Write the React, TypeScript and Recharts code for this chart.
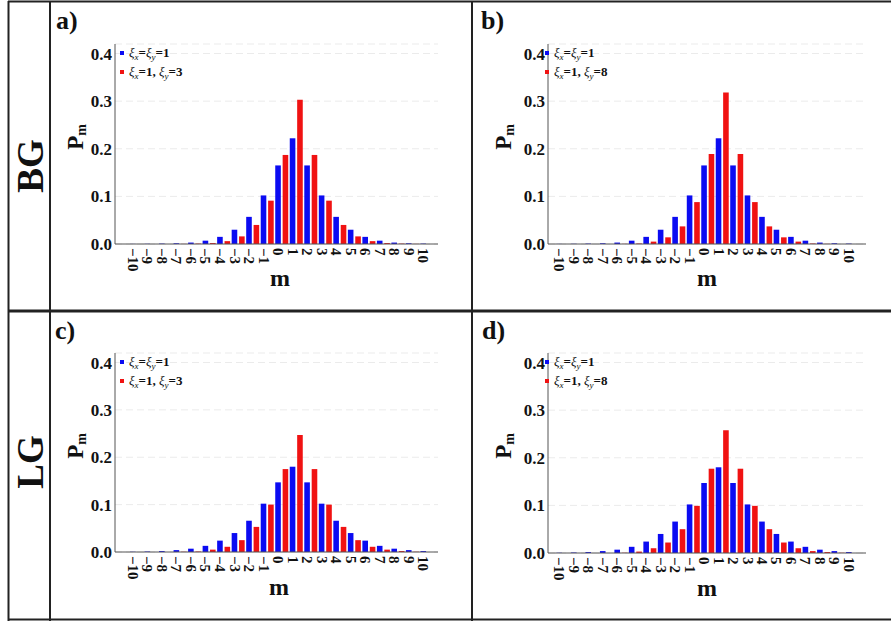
import React from 'react';
import { BarChart, Bar, XAxis, YAxis, CartesianGrid, Legend } from 'recharts';

// m values on the x axis
const M = [-10, -9, -8, -7, -6, -5, -4, -3, -2, -1, 0, 1, 2, 3, 4, 5, 6, 7, 8, 9, 10];

// BG beams
const bgUniform = [0.0002, 0.0004, 0.0008, 0.0015, 0.003, 0.007, 0.015, 0.03, 0.057, 0.102, 0.165, 0.222, 0.165, 0.102, 0.057, 0.03, 0.015, 0.007, 0.003, 0.0015, 0.0008];
const bgXi3 = [0, 0, 0, 0.0002, 0.0008, 0.002, 0.006, 0.016, 0.04, 0.091, 0.187, 0.303, 0.187, 0.091, 0.04, 0.016, 0.006, 0.002, 0.0008, 0.0002, 0];
const bgXi8 = [0, 0, 0, 0, 0.0003, 0.001, 0.005, 0.014, 0.037, 0.088, 0.189, 0.318, 0.189, 0.088, 0.037, 0.014, 0.005, 0.001, 0.0003, 0, 0];

// LG beams
const lgUniform = [0.0005, 0.001, 0.002, 0.004, 0.007, 0.013, 0.024, 0.04, 0.066, 0.102, 0.147, 0.18, 0.147, 0.102, 0.066, 0.04, 0.024, 0.013, 0.007, 0.004, 0.002];
const lgXi3 = [0, 0, 0, 0.0005, 0.001, 0.005, 0.011, 0.025, 0.053, 0.1, 0.175, 0.247, 0.175, 0.1, 0.053, 0.025, 0.011, 0.005, 0.002, 0.0005, 0];
const lgXi8 = [0, 0, 0, 0, 0.0005, 0.003, 0.01, 0.022, 0.05, 0.099, 0.177, 0.258, 0.177, 0.099, 0.05, 0.022, 0.01, 0.004, 0.002, 0.0005, 0];

const yTicks = [0, 0.1, 0.2, 0.3, 0.4];

const NAME_UNI = 'ξx=ξy=1';
const NAME_XI3 = 'ξx=1, ξy=3';
const NAME_XI8 = 'ξx=1, ξy=8';

const SERIF = '"Liberation Serif", "Times New Roman", serif';
const BLUE = '#0b0bf2';
const RED = '#f01212';
const AXIS = '#555';
const INK = '#111';

const rows = (blue: number[], red: number[]) => M.map((m, i) => ({ m, blue: blue[i], red: red[i] }));

const fmtM = (v: number) => (v < 0 ? `\u2212${-v}` : `${v}`);

const MTick = (props: any) => {
  const { x, y, payload } = props;
  return (
    <g transform={`translate(${x - 3},${y}) rotate(90)`}>
      <text dy="0.36em" fontSize={15} fontWeight="bold" fontFamily={SERIF} fill={INK}>
        {fmtM(payload.value)}
      </text>
    </g>
  );
};

const XiText = ({ s }: { s: string }) => {
  const parts = s.split(/(ξ[xy])/).filter(Boolean);
  return (
    <>
      {parts.map((p, i) =>
        p.startsWith('ξ') ? (
          <span key={i}>
            <i>ξ</i>
            <sub style={{ fontSize: 9, fontStyle: 'italic', verticalAlign: '-3px', lineHeight: 0 }}>{p[1]}</sub>
          </span>
        ) : (
          <b key={i} style={{ whiteSpace: 'pre' }}>{p}</b>
        )
      )}
    </>
  );
};

const LegendContent = (props: any) => {
  // blue series first, as in the figure
  const items = [...(props.payload || [])].sort((a: any, b: any) => (a.dataKey === 'blue' ? -1 : b.dataKey === 'blue' ? 1 : 0));
  return (
    <div style={{ fontFamily: SERIF, fontSize: 13, color: INK }}>
      {items.map((e: any) => (
        <div key={e.value} style={{ display: 'flex', alignItems: 'center', height: 18.4, whiteSpace: 'nowrap' }}>
          <span style={{ width: 4, height: 4, background: e.color, marginRight: 5, flex: 'none' }} />
          <span>
            <XiText s={e.value} />
          </span>
        </div>
      ))}
    </div>
  );
};

const CW = 420;
const CH = 310;
const YW = 40;
const XH = 40;

type PanelCfg = {
  left: number;
  top: number;
  plotLeft: number;
  plotRight: number;
  plotTop: number;
  plotBottom: number;
  pad: { left: number; right: number };
  legend: { x: number; y: number };
  data: { m: number; blue: number; red: number }[];
  redName: string;
};

const panels: PanelCfg[] = [
  { left: 50, top: 0, plotLeft: 65, plotRight: 388, plotTop: 44, plotBottom: 244, pad: { left: 14, right: 4 }, legend: { x: 70, y: 44 }, data: rows(bgUniform, bgXi3), redName: NAME_XI3 },
  { left: 472, top: 0, plotLeft: 76, plotRight: 394, plotTop: 44, plotBottom: 244, pad: { left: 7.5, right: 6.5 }, legend: { x: 73, y: 44 }, data: rows(bgUniform, bgXi8), redName: NAME_XI8 },
  { left: 50, top: 311, plotLeft: 65, plotRight: 388, plotTop: 42, plotBottom: 241, pad: { left: 14, right: 4 }, legend: { x: 70, y: 42 }, data: rows(lgUniform, lgXi3), redName: NAME_XI3 },
  { left: 472, top: 311, plotLeft: 76, plotRight: 394, plotTop: 42, plotBottom: 242, pad: { left: 7.5, right: 6.5 }, legend: { x: 73, y: 42 }, data: rows(lgUniform, lgXi8), redName: NAME_XI8 },
];

const Panel = ({ cfg }: { cfg: PanelCfg }) => {
  const margin = {
    top: cfg.plotTop,
    right: CW - cfg.plotRight,
    bottom: CH - cfg.plotBottom - XH,
    left: cfg.plotLeft - YW,
  };
  return (
    <div style={{ position: 'absolute', left: cfg.left, top: cfg.top }}>
      <BarChart width={CW} height={CH} data={cfg.data} margin={margin} barGap={1.8}>
        <CartesianGrid vertical={false} stroke="#ebebeb" strokeDasharray="7 4" />
        <XAxis
          dataKey="m"
          interval={0}
          tick={<MTick />}
          tickLine={false}
          tickSize={0}
          tickMargin={4}
          height={XH}
          padding={cfg.pad}
          axisLine={{ stroke: AXIS }}
        />
        <XAxis xAxisId="top" orientation="top" dataKey="m" height={0} tick={false} axisLine={{ stroke: AXIS }} />
        <YAxis
          domain={[0, 0.42]}
          ticks={yTicks}
          width={YW}
          tickLine={false}
          tickSize={0}
          tickMargin={3}
          tickFormatter={(v: number) => v.toFixed(1)}
          tick={{ fontSize: 17, fontWeight: 'bold', fill: INK, fontFamily: SERIF }}
          axisLine={{ stroke: AXIS }}
        />
        <YAxis yAxisId="r" orientation="right" width={0} tick={false} axisLine={{ stroke: AXIS }} />
        <Legend
          layout="vertical"
          align="center"
          verticalAlign="middle"
          content={LegendContent}
          wrapperStyle={{ left: cfg.legend.x, top: cfg.legend.y, width: 'auto' }}
        />
        <Bar dataKey="blue" name={NAME_UNI} fill={BLUE} barSize={5.6} isAnimationActive={false} />
        <Bar dataKey="red" name={cfg.redName} fill={RED} barSize={5.6} isAnimationActive={false} />
      </BarChart>
    </div>
  );
};

// frame, row titles, panel letters and axis titles
const Overlay = () => {
  const lbl = { fontFamily: SERIF, fontWeight: 'bold' as const, fill: INK };
  const pm = (x: number, y: number) => (
    <text transform={`translate(${x},${y}) rotate(-90)`} textAnchor="middle" fontSize={23} {...lbl}>
      P<tspan fontSize={14} dy={3}>m</tspan>
    </text>
  );
  return (
    <svg width={891} height={621} style={{ position: 'absolute', left: 0, top: 0 }}>
      <g stroke="#222" fill="none">
        <line x1={8.5} y1={1} x2={8.5} y2={621} strokeWidth={2} />
        <line x1={8} y1={1.5} x2={891} y2={1.5} strokeWidth={2} />
        <line x1={50} y1={1} x2={50} y2={621} strokeWidth={2} />
        <line x1={472} y1={1} x2={472} y2={621} strokeWidth={2} />
        <line x1={8} y1={311} x2={891} y2={311} strokeWidth={3} />
        <line x1={8} y1={619.5} x2={891} y2={619.5} strokeWidth={2} />
      </g>
      <text transform="translate(43,166) rotate(-90)" textAnchor="middle" fontSize={37} {...lbl}>BG</text>
      <text transform="translate(43,462) rotate(-90)" textAnchor="middle" fontSize={37} {...lbl}>LG</text>
      <text x={56} y={29} fontSize={26} {...lbl}>a)</text>
      <text x={481} y={29} fontSize={26} {...lbl}>b)</text>
      <text x={55} y={339} fontSize={26} {...lbl}>c)</text>
      <text x={482} y={339} fontSize={26} {...lbl}>d)</text>
      {pm(83, 137)}
      {pm(511, 137)}
      {pm(83, 446)}
      {pm(511, 446)}
      <text x={280} y={286} textAnchor="middle" fontSize={24} {...lbl}>m</text>
      <text x={707} y={286} textAnchor="middle" fontSize={24} {...lbl}>m</text>
      <text x={279} y={595} textAnchor="middle" fontSize={24} {...lbl}>m</text>
      <text x={707} y={596} textAnchor="middle" fontSize={24} {...lbl}>m</text>
    </svg>
  );
};

export default function App() {
  return (
    <div style={{ position: 'absolute', left: 0, top: 0, width: 891, height: 621, background: '#fff', overflow: 'hidden' }}>
      <Overlay />
      {panels.map((p, i) => (
        <Panel key={i} cfg={p} />
      ))}
    </div>
  );
}
